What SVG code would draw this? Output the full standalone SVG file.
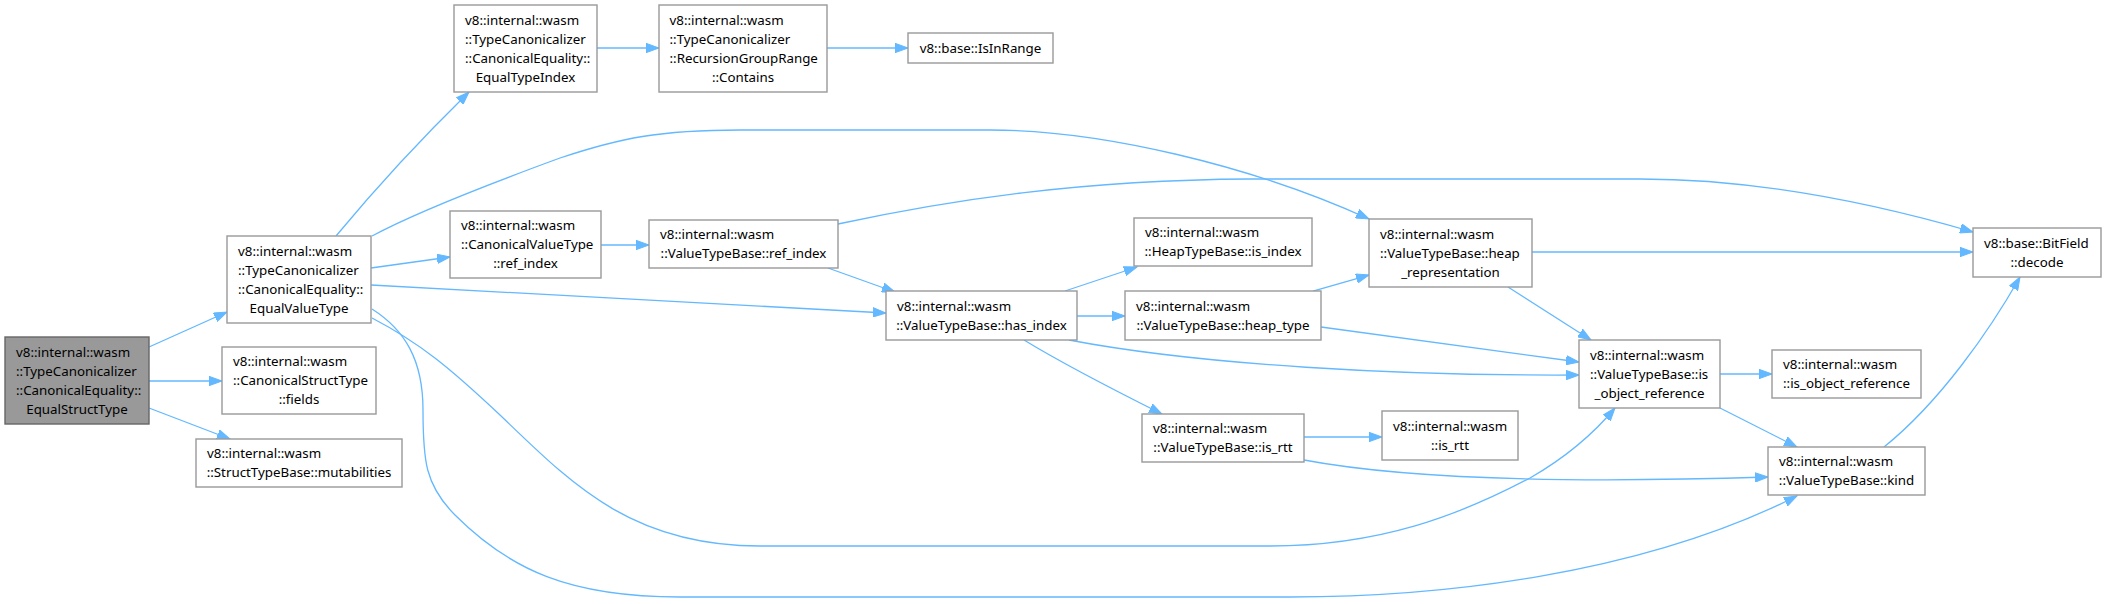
<svg xmlns="http://www.w3.org/2000/svg" width="2106" height="604" viewBox="0 0 2106 604">
<style>
.n rect{fill:#fff;stroke:#999;stroke-width:1.4}
.n.root rect{fill:#999;stroke:#666}
.n text{font-family:"Noto Sans","Open Sans","DejaVu Sans",sans-serif;font-size:13.33px;fill:#000}
.c{text-anchor:middle}
#edges path{fill:none;stroke:#63b8ff;stroke-width:1.3;marker-end:url(#ah)}
</style>
<defs>
<marker id="ah" markerUnits="userSpaceOnUse" markerWidth="14" markerHeight="10" refX="13" refY="5" orient="auto" viewBox="0 0 14 10">
<path d="M0,0.3 L13,5 L0,9.7 z" fill="#63b8ff" stroke="#63b8ff" stroke-width="1"/>
</marker>
</defs>
<rect width="2106" height="604" fill="#fff"/>
<g id="edges">
<path d="M149,347 L227,312"/>
<path d="M149,381 L222,381"/>
<path d="M149,408 L230,439"/>
<path d="M336,236 C370,195 420,140 469,92"/>
<path d="M371,268 L450,257"/>
<path d="M371,285 L886,313"/>
<path d="M372,236 C420,210 500,180 560,158 C620,138 660,130 740,130 L990,130 C1100,130 1250,165 1369,219"/>
<path d="M597,48 L659,48"/>
<path d="M827,48 L908,48"/>
<path d="M601,245 L649,245"/>
<path d="M828,268 L895,292"/>
<path d="M838,224 C950,200 1080,180 1250,179 L1640,179 C1760,179 1880,205 1973,232"/>
<path d="M1065,291 L1137,267"/>
<path d="M1077,316 L1125,316"/>
<path d="M1069,340 C1200,365 1400,376 1579,375"/>
<path d="M1024,340 C1060,362 1110,388 1162,414"/>
<path d="M1313,291 L1369,275"/>
<path d="M1321,327 L1579,362"/>
<path d="M1532,252 L1973,252"/>
<path d="M1508,287 L1591,340"/>
<path d="M1720,374 L1772,374"/>
<path d="M1720,408 L1797,447"/>
<path d="M1884,447 C1940,402 1990,330 2020,277"/>
<path d="M1304,437 L1382,437"/>
<path d="M1304,460 C1400,478 1550,484 1768,477"/>
<path d="M372,318 C420,343 450,368 500,415 C570,482 630,546 760,546 L1270,546 C1380,546 1460,515 1530,478 C1570,455 1595,432 1615,408"/>
<path d="M372,309 C405,330 423,360 423,410 C423,460 425,485 455,515 C510,570 570,597 680,597 L1290,597 C1440,597 1640,575 1797,496"/>
</g>
<g id="n_EqualStructType" class="n root">
<rect x="5" y="337" width="144" height="87"/>
<text x="16" y="356.5">v8::internal::wasm</text>
<text x="16" y="375.5">::TypeCanonicalizer</text>
<text x="16" y="394.5">::CanonicalEquality::</text>
<text class="c" x="77" y="413.5">EqualStructType</text>
</g>
<g id="n_EqualValueType" class="n">
<rect x="227" y="236" width="144" height="87"/>
<text x="238" y="255.5">v8::internal::wasm</text>
<text x="238" y="274.5">::TypeCanonicalizer</text>
<text x="238" y="293.5">::CanonicalEquality::</text>
<text class="c" x="299" y="312.5">EqualValueType</text>
</g>
<g id="n_fields" class="n">
<rect x="222" y="347" width="154" height="67"/>
<text x="233" y="366">v8::internal::wasm</text>
<text x="233" y="385">::CanonicalStructType</text>
<text class="c" x="299" y="404">::fields</text>
</g>
<g id="n_mutabilities" class="n">
<rect x="196" y="439" width="206" height="48"/>
<text x="207" y="458">v8::internal::wasm</text>
<text class="c" x="299" y="477">::StructTypeBase::mutabilities</text>
</g>
<g id="n_EqualTypeIndex" class="n">
<rect x="454" y="5" width="143" height="87"/>
<text x="465" y="24.5">v8::internal::wasm</text>
<text x="465" y="43.5">::TypeCanonicalizer</text>
<text x="465" y="62.5">::CanonicalEquality::</text>
<text class="c" x="525.5" y="81.5">EqualTypeIndex</text>
</g>
<g id="n_Contains" class="n">
<rect x="659" y="5" width="168" height="87"/>
<text x="669.5" y="24.5">v8::internal::wasm</text>
<text x="669.5" y="43.5">::TypeCanonicalizer</text>
<text x="669.5" y="62.5">::RecursionGroupRange</text>
<text class="c" x="743" y="81.5">::Contains</text>
</g>
<g id="n_IsInRange" class="n">
<rect x="908" y="33" width="145" height="30"/>
<text class="c" x="980.5" y="52.5">v8::base::IsInRange</text>
</g>
<g id="n_CVT_ref_index" class="n">
<rect x="450" y="211" width="151" height="67"/>
<text x="461" y="230">v8::internal::wasm</text>
<text x="461" y="249">::CanonicalValueType</text>
<text class="c" x="525.5" y="268">::ref_index</text>
</g>
<g id="n_VTB_ref_index" class="n">
<rect x="649" y="220" width="189" height="48"/>
<text x="660" y="239">v8::internal::wasm</text>
<text class="c" x="743.5" y="258">::ValueTypeBase::ref_index</text>
</g>
<g id="n_has_index" class="n">
<rect x="886" y="291" width="191" height="49"/>
<text x="897" y="310.5">v8::internal::wasm</text>
<text class="c" x="981.5" y="329.5">::ValueTypeBase::has_index</text>
</g>
<g id="n_HTB_is_index" class="n">
<rect x="1134" y="218" width="178" height="48"/>
<text x="1145" y="237">v8::internal::wasm</text>
<text class="c" x="1223" y="256">::HeapTypeBase::is_index</text>
</g>
<g id="n_heap_type" class="n">
<rect x="1125" y="291" width="196" height="49"/>
<text x="1136" y="310.5">v8::internal::wasm</text>
<text class="c" x="1223" y="329.5">::ValueTypeBase::heap_type</text>
</g>
<g id="n_heap_representation" class="n">
<rect x="1369" y="219" width="163" height="68"/>
<text x="1380" y="238.5">v8::internal::wasm</text>
<text x="1380" y="257.5">::ValueTypeBase::heap</text>
<text class="c" x="1450.5" y="276.5">_representation</text>
</g>
<g id="n_decode" class="n">
<rect x="1973" y="228" width="128" height="49"/>
<text x="1984" y="247.5">v8::base::BitField</text>
<text class="c" x="2037" y="266.5">::decode</text>
</g>
<g id="n_VTB_is_object_reference" class="n">
<rect x="1579" y="340" width="141" height="68"/>
<text x="1590" y="359.5">v8::internal::wasm</text>
<text x="1590" y="378.5">::ValueTypeBase::is</text>
<text class="c" x="1649.5" y="397.5">_object_reference</text>
</g>
<g id="n_is_object_reference" class="n">
<rect x="1772" y="350" width="149" height="48"/>
<text x="1783" y="369">v8::internal::wasm</text>
<text class="c" x="1846.5" y="388">::is_object_reference</text>
</g>
<g id="n_VTB_is_rtt" class="n">
<rect x="1142" y="414" width="162" height="48"/>
<text x="1153" y="433">v8::internal::wasm</text>
<text class="c" x="1223" y="452">::ValueTypeBase::is_rtt</text>
</g>
<g id="n_is_rtt" class="n">
<rect x="1382" y="411" width="136" height="49"/>
<text x="1393" y="430.5">v8::internal::wasm</text>
<text class="c" x="1450" y="449.5">::is_rtt</text>
</g>
<g id="n_kind" class="n">
<rect x="1768" y="447" width="157" height="48"/>
<text x="1779" y="466">v8::internal::wasm</text>
<text class="c" x="1846.5" y="485">::ValueTypeBase::kind</text>
</g>
</svg>
